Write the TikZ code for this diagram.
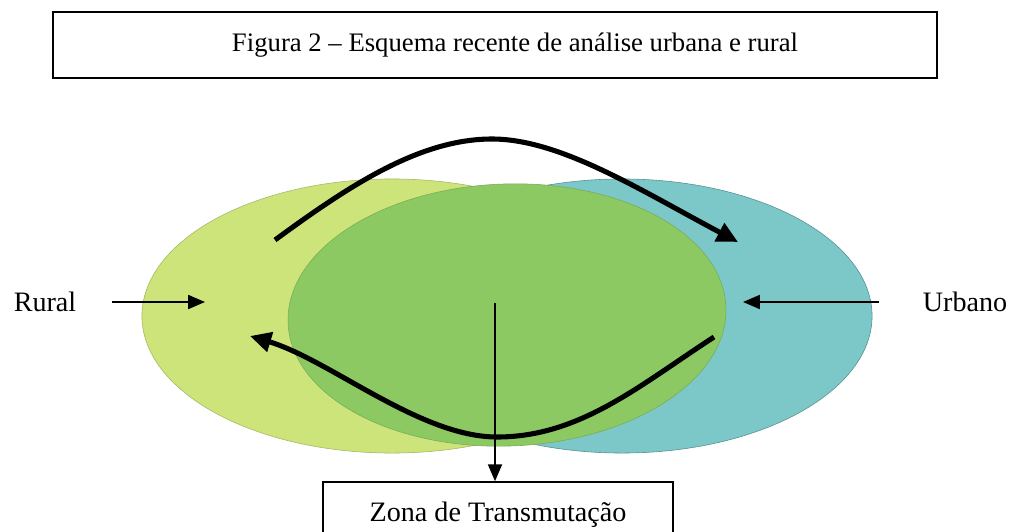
\documentclass[tikz,border=0pt]{standalone}
\usepackage{fontspec}
\setmainfont{Liberation Serif}
\usetikzlibrary{arrows.meta,shapes.geometric}
\definecolor{ruralgreen}{RGB}{205,228,122}
\definecolor{urbanteal}{RGB}{124,200,201}
\definecolor{zonegreen}{RGB}{141,201,99}
\tikzset{
  thinarrow/.style={line width=1.1pt, -{Triangle[length=12pt,width=10pt]}},
  thickarrow/.style={line width=3.6pt, -{Triangle[length=15pt,width=14pt]}},
  labelbox/.style={draw, line width=1.1pt, minimum height=1.65cm, inner sep=0pt},
  labeltext/.style={inner sep=0pt, font=\fontsize{20}{24}\selectfont},
}

\begin{document}
\begin{tikzpicture}[x=0.025cm, y=-0.025cm]
			%%%%% START %%%%%
			\clip (0,0) rectangle (1016,531);
			
			\node[labelbox, minimum width=22.1cm, font=\fontsize{19}{23}\selectfont] (title) at (495,45) {\hspace*{1cm}Figura 2 -- Esquema recente de análise urbana e rural};
			
			\filldraw[fill=ruralgreen, draw=ruralgreen!80!black, line width=0.4pt] (392,316) ellipse [x radius=6.25cm, y radius=3.425cm];
			\filldraw[fill=urbanteal, draw=urbanteal!70!black, line width=0.4pt] (622,316) ellipse [x radius=6.25cm, y radius=3.425cm];
			\filldraw[fill=zonegreen, draw=zonegreen!85!black, line width=0.4pt, rotate around={2:(507,315)}] (507,315) ellipse [x radius=5.475cm, y radius=3.275cm];
			
			\node[labeltext] (rural) at (45,302) {Rural};
			\node[labeltext] (urbano) at (965,302) {Urbano};
			\node[labelbox, minimum width=8.75cm, font=\fontsize{20}{24}\selectfont] (zona) at (498,515) {Zona de Transmutação};
			
			\coordinate (ruralin) at (205,302);
			\coordinate (urbanin) at (743,302);
			\coordinate (core) at (495,303);
			\draw[thinarrow, shorten <=0.875cm] (rural) -- (ruralin);
			\draw[thinarrow, shorten <=1.1cm] (urbano) -- (urbanin);
			\draw[thinarrow] (core) -- (core |- zona.north);
			
			\coordinate (topstart) at (275,240);
			\coordinate (toppeak) at (492,139);
			\coordinate (topend) at (738,242);
			\draw[thickarrow] (topstart) .. controls (350,185) and (420,139) .. (toppeak) .. controls (560,139) and (640,190) .. (topend);
			
			\coordinate (botstart) at (714,337);
			\coordinate (botlow) at (497,437);
			\coordinate (botend) at (250,336);
			\draw[thickarrow] (botstart) .. controls (640,385) and (580,437) .. (botlow) .. controls (420,437) and (330,360) .. (botend);
			
			%%%%% END %%%%%
\end{tikzpicture}
\end{document}
